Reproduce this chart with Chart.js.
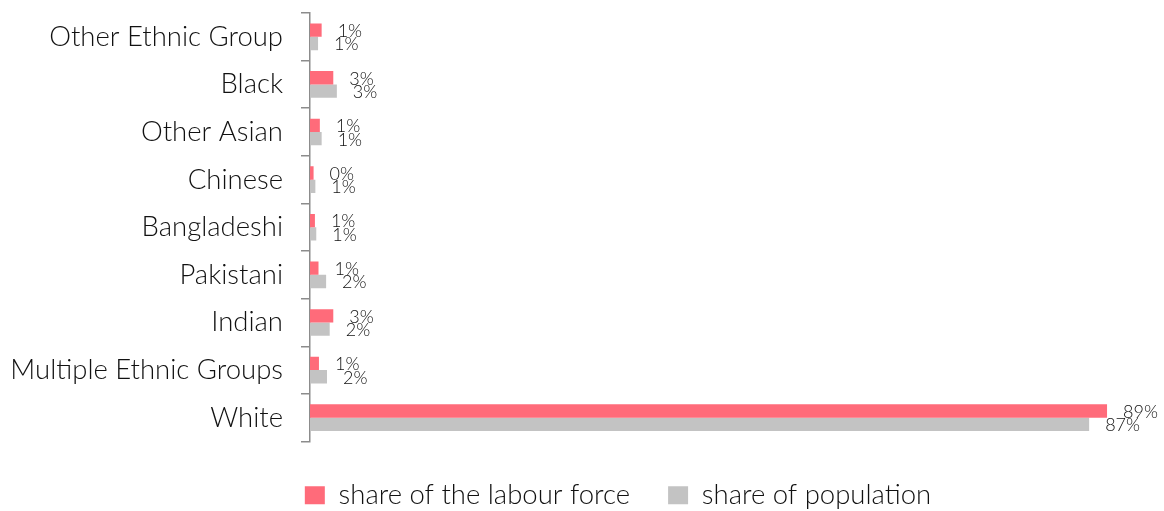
<!DOCTYPE html>
<html>
<head>
<meta charset="utf-8">
<script src="https://cdn.jsdelivr.net/npm/chart.js@4.4.1/dist/chart.umd.min.js"></script>
<style>
  html, body { margin: 0; padding: 0; background: #fff; }
  #wrap { width: 1164px; height: 511px; position: relative; }
</style>
</head>
<body>
<div id="wrap"><canvas id="ethnicChart"></canvas></div>
<script>
// Ethnic groups, top to bottom
const groups = [
  "Other Ethnic Group", "Black", "Other Asian", "Chinese", "Bangladeshi",
  "Pakistani", "Indian", "Multiple Ethnic Groups", "White"
];
// Shares in percent
const labourForce = [1.3, 2.6, 1.1, 0.4, 0.55, 0.95, 2.6, 1.0, 89];
const population = [0.9, 3.0, 1.3, 0.6, 0.7, 1.8, 2.2, 1.9, 87];
const seriesNames = ["share of the labour force", "share of population"];

const FONT = "Lato, 'Noto Sans', sans-serif";

// Writes the rounded percentage just past the end of each bar
const valueLabels = {
  id: "valueLabels",
  afterDatasetsDraw(chart) {
    const ctx = chart.ctx;
    ctx.save();
    ctx.font = "300 18px " + FONT;
    ctx.fillStyle = "#111";
    ctx.textAlign = "left";
    ctx.textBaseline = "middle";
    chart.data.datasets.forEach((ds, i) => {
      chart.getDatasetMeta(i).data.forEach((bar, j) => {
        ctx.fillText(Math.round(ds.data[j]) + "%", bar.x + 16, bar.y + 1);
      });
    });
    ctx.restore();
  }
};

// Nudge the legend so it sits under the bars rather than the whole canvas
const legendShift = {
  id: "legendShift",
  afterLayout(chart) {
    chart.legend.left += 60;
    chart.legend.right += 60;
  }
};

new Chart(document.getElementById("ethnicChart"), {
  type: "bar",
  data: {
    labels: groups,
    datasets: [
      { label: seriesNames[0], data: labourForce, backgroundColor: "#ff6b7a" },
      { label: seriesNames[1], data: population, backgroundColor: "#c3c3c3" }
    ]
  },
  options: {
    indexAxis: "y",
    responsive: true,
    maintainAspectRatio: false,
    animation: false,
    datasets: { bar: { categoryPercentage: 0.56, barPercentage: 1 } },
    layout: { padding: { left: 0, right: 48, top: 13, bottom: -8 } },
    plugins: {
      legend: {
        position: "bottom",
        labels: {
          font: { family: FONT, size: 27.5, weight: 300 },
          color: "#111",
          boxWidth: 20,
          boxHeight: 18,
          padding: 38
        }
      },
      tooltip: { enabled: false }
    },
    scales: {
      x: {
        min: 0,
        max: 90,
        ticks: { display: false },
        grid: { display: false },
        border: { display: false },
        afterFit(scale) { scale.height = 2; }
      },
      y: {
        // label gap comes from tickLength; the dash keeps only the last 9px of each tick visible
        ticks: { font: { family: FONT, size: 27.5, weight: 300, lineHeight: 0.2 }, color: "#111", padding: 0 },
        grid: {
          drawOnChartArea: false, drawTicks: true, tickLength: 27,
          tickBorderDash: [9, 18], tickBorderDashOffset: 9,
          color: "#8c8c8c", lineWidth: 1.5
        },
        border: { color: "#8c8c8c", width: 1.5 },
        afterFit(scale) { scale.width = 310; }
      }
    }
  },
  plugins: [valueLabels, legendShift]
});
</script>
</body>
</html>
